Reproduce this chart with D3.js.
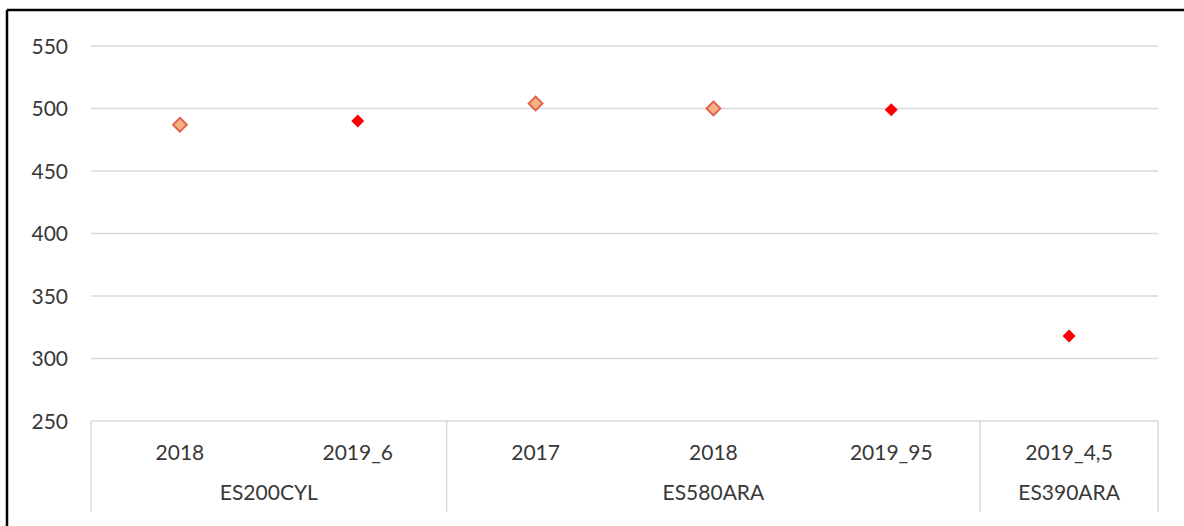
<!DOCTYPE html>
<html><head><meta charset="utf-8">
<script src="https://cdn.jsdelivr.net/npm/d3@7"></script>
<style>
html,body{margin:0;padding:0;background:#fff;}
svg{display:block;font-family:Lato,"Open Sans",sans-serif;}
</style></head>
<body><svg id="c" width="1184" height="526"></svg>
<script>
const categories = ["2018","2019_6","2017","2018","2019_95","2019_4,5"];
const groups = ["ES200CYL","ES200CYL","ES580ARA","ES580ARA","ES580ARA","ES390ARA"];
const seriesEarlier = [487, null, 504, 500, null, null];
const seriesLatest = [null, 490, null, null, 499, 318];
const yTicks = [250,300,350,400,450,500,550];

(function(){
const FONT = "Lato, 'Open Sans', sans-serif", FS = 21, TC = "#383838";
const svg = d3.select("#c");
svg.append("line").attr("x1",7).attr("x2",1184).attr("y1",10).attr("y2",10).attr("stroke","#000").attr("stroke-width",2.5);
svg.append("line").attr("x1",7).attr("x2",7).attr("y1",10).attr("y2",526).attr("stroke","#000").attr("stroke-width",2.5);

const pL=91, pR=1158, pT=46, pB=421;
const x = d3.scaleBand().domain(d3.range(categories.length)).range([pL,pR]);
const y = d3.scaleLinear().domain([250,550]).range([pB,pT]);

svg.append("g").selectAll("line").data(yTicks.filter(d=>d>250)).join("line")
  .attr("x1",pL).attr("x2",pR).attr("y1",d=>y(d)).attr("y2",d=>y(d))
  .attr("stroke","#d9d9d9").attr("stroke-width",1.5);

const ya = svg.append("g").attr("transform",`translate(${pL-23},0)`)
  .call(d3.axisLeft(y).tickValues(yTicks).tickSize(0).tickPadding(0));
ya.select(".domain").remove();
ya.selectAll("text").attr("font-size",FS).attr("fill",TC).attr("font-family",FONT).attr("dy","0.35em");

svg.append("line").attr("x1",pL).attr("x2",pR).attr("y1",pB).attr("y2",pB).attr("stroke","#d9d9d9").attr("stroke-width",1.5);
const xa = svg.append("g").attr("transform",`translate(0,${pB})`)
  .call(d3.axisBottom(x).tickFormat(i=>categories[i]).tickSize(0).tickPadding(0));
xa.select(".domain").remove();
xa.selectAll("text").attr("font-size",FS).attr("fill",TC).attr("font-family",FONT).attr("y",32).attr("dy","0.35em");

const spans=[];
groups.forEach((g,i)=>{ if(!spans.length||spans[spans.length-1].name!==g) spans.push({name:g,start:i,end:i}); else spans[spans.length-1].end=i;});
const bounds = [x(0)].concat(spans.map(s=>x(s.end)+x.bandwidth()));
svg.append("g").selectAll("line").data(bounds).join("line")
  .attr("x1",d=>d).attr("x2",d=>d).attr("y1",pB).attr("y2",512)
  .attr("stroke","#d9d9d9").attr("stroke-width",1.5);
svg.append("g").selectAll("text").data(spans).join("text")
  .attr("x",s=>(x(s.start)+x(s.end)+x.bandwidth())/2).attr("y",493).attr("dy","0.35em")
  .attr("text-anchor","middle").attr("font-size",FS).attr("fill",TC).attr("font-family",FONT)
  .text(s=>s.name);

const cx = i=>x(i)+x.bandwidth()/2;
const diamond = (s)=>`M0,${-s}L${s},0L0,${s}L${-s},0Z`;
svg.append("g").selectAll("path").data(seriesEarlier.map((v,i)=>({v,i})).filter(d=>d.v!=null)).join("path")
  .attr("d",diamond(7)).attr("transform",d=>`translate(${cx(d.i)},${y(d.v)})`)
  .attr("fill","#F4B183").attr("stroke","#E2604B").attr("stroke-width",1.8);
svg.append("g").selectAll("path").data(seriesLatest.map((v,i)=>({v,i})).filter(d=>d.v!=null)).join("path")
  .attr("d",diamond(6.5)).attr("transform",d=>`translate(${cx(d.i)},${y(d.v)})`)
  .attr("fill","#FF0000");
})();
</script></body></html>
